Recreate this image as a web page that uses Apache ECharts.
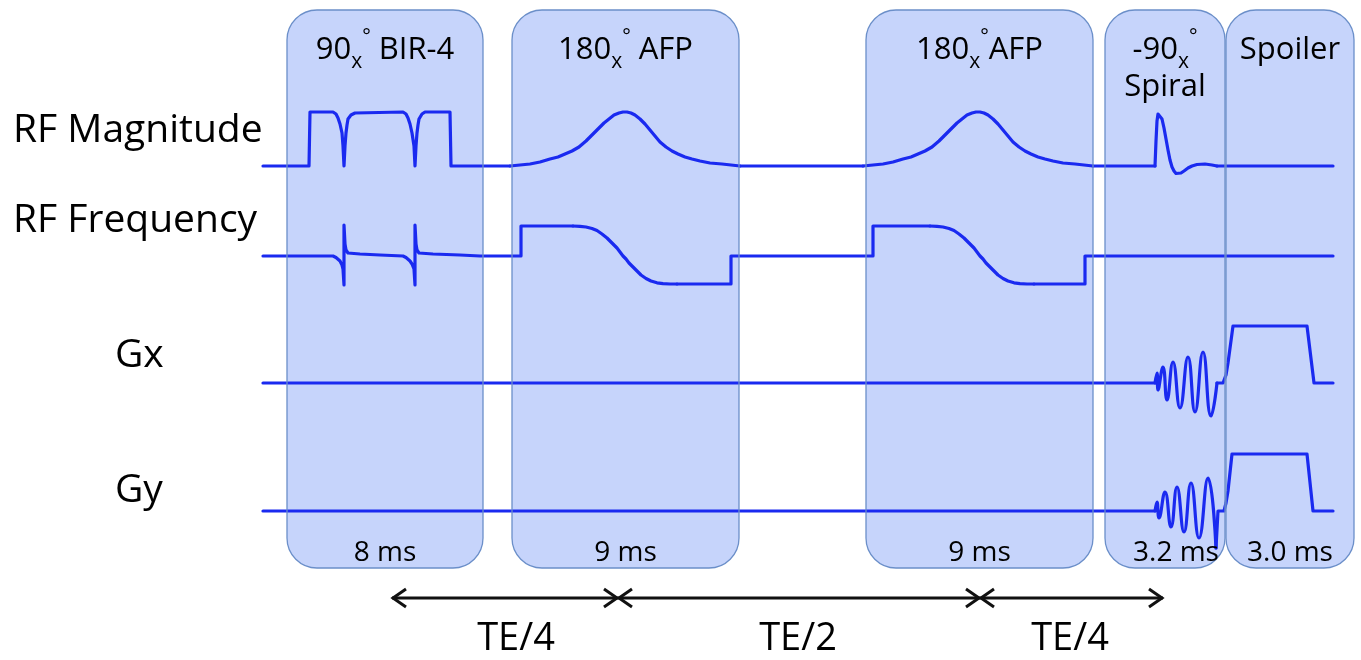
<!DOCTYPE html>
<html>
<head>
<meta charset="utf-8">
<script src="https://cdn.jsdelivr.net/npm/echarts@6/dist/echarts.min.js"></script>
<style>
  html, body { margin: 0; padding: 0; background: #ffffff; }
  #chart { width: 1361px; height: 660px; }
</style>
</head>
<body>
<div id="chart"></div>
<script>
// ---------------- DATA (time in diagram units, amplitudes in arbitrary units) ----------------
const traceNames = ['RF Magnitude', 'RF Frequency', 'Gx', 'Gy'];

// sequence blocks
const boxStart = [287, 512, 866, 1105, 1226];
const boxEnd   = [483, 739, 1093, 1225, 1354];
const boxTitles = ['90{s|x}{d|°} BIR-4', '180{s|x}{d|°} AFP', '180{s|x}{d|°}AFP', '-90{s|x}{d|°}\n{l2|Spiral}', 'Spoiler'];
const boxDurations = ['8 ms', '9 ms', '9 ms', '3.2 ms', '3.0 ms'];

// echo-time arrows
const teStart = [392, 618, 980];
const teEnd   = [618, 980, 1163];
const teLabels = ['TE/4', 'TE/2', 'TE/4'];
const teLabelAt = [516, 798, 1070];

// RF magnitude
const rfMagBir4 = [[263,0],[309,0],[310,54],[333,54],[336,52],[338,48],[340,42],[342,33],[343,20],[344,0],[345,20],[346,33],[347,41],[348,47],[351,51],[355,53],[403,54],[406,52],[408,48],[410,42],[412,33],[414,20],[415,0],[416,20],[417,33],[418,41],[419,47],[422,52],[425,54],[450,54],[451,0],[510,0]];
const rfMagAfp1 = [[510,0],[520,1],[530,2],[540,4],[550,7],[558,9],[565,12],[572,15],[579,19],[586,25],[592,31],[598,37],[604,43],[609,47],[614,51],[619,53],[623,54],[627,54],[631,53],[635,51],[640,47],[645,42],[650,36],[655,30],[660,24],[666,19],[672,15],[678,12],[685,9],[692,7],[700,5],[710,3],[722,2],[740,0]];
const rfMagGapA = [[740,0],[863,0]];
const rfMagAfp2 = [[863,0],[873,1],[883,2],[893,4],[903,7],[911,9],[918,12],[925,15],[932,19],[939,25],[945,31],[951,37],[957,43],[962,47],[967,51],[972,53],[976,54],[980,54],[984,53],[988,51],[993,47],[998,42],[1003,36],[1008,30],[1013,24],[1019,19],[1025,15],[1031,12],[1038,9],[1045,7],[1053,5],[1063,3],[1075,2],[1093,0]];
const rfMagGapB = [[1093,0],[1155,0]];
const rfMagSpiral = [[1155,0],[1156,25],[1157,45],[1158,52],[1159,53],[1160,52],[1162,47],[1164,38],[1166,27],[1168,16],[1170,6],[1172,-1],[1174,-5],[1176,-7.5],[1178,-8],[1181,-7],[1184,-5],[1188,-2],[1192,0],[1197,1.5],[1205,2],[1212,1],[1217,0]];
const rfMagTail = [[1217,0],[1333,0]];

// RF frequency
const rfFreqBir4 = [[263,0],[333,0],[336,-1.5],[338,-3],[340,-5],[342,-9],[343,-13],[344,-29],[344,31],[345,12],[346,6],[348,3],[360,2],[380,1],[403,0],[406,-1.5],[408,-3],[410,-5],[412,-8],[414,-13],[415,-29],[415,31],[416,12],[417,6],[419,3],[433,2],[460,1],[480,0],[521,0],[521,30],[573,30]];
const rfFreqAfp1 = [[573,30],[580,29.7],[586,29],[592,27.5],[597,25.5],[602,22],[607,18],[612,13],[617,8],[620,4],[623,0],[626,-3],[629,-7],[633,-11],[637,-15],[641,-19],[646,-22.5],[651,-25],[657,-26.8],[663,-27.6],[670,-28],[677,-28]];
const rfFreqMid = [[677,-28],[731,-28],[731,0],[873,0],[873,30],[930,30]];
const rfFreqAfp2 = [[930,30],[937,29.7],[943,29],[949,27.5],[954,25.5],[959,22],[964,18],[969,13],[974,8],[977,4],[980,0],[983,-3],[986,-7],[990,-11],[994,-15],[998,-19],[1003,-22.5],[1008,-25],[1014,-26.8],[1020,-27.6],[1027,-28],[1034,-28]];
const rfFreqTail = [[1034,-28],[1085,-28],[1085,0],[1333,0]];

// Gx
const gxLead = [[263,0],[1155,0]];
const gxSpiral = [[1155,0],[1157,10],[1158,-7],[1163,16],[1167,-17],[1173,21],[1180,-25],[1188,26],[1195,-29],[1203,31],[1211,-33],[1217,0]];
const gxSpoiler = [[1217,0],[1223,0],[1226,8],[1228,20],[1233,57],[1307,57],[1314,0],[1333,0]];

// Gy
const gyLead = [[263,0],[1155,0]];
const gySpiral = [[1155,0],[1157,9],[1159,-7],[1165,19],[1171,-16],[1177,24],[1184,-21],[1191,28],[1199,-27],[1208,33],[1216,-37]];
const gySpoiler = [[1216,-37],[1218,0],[1224,0],[1226,8],[1228,20],[1232,57],[1307,57],[1313,0],[1333,0]];

// ---------------- STYLE / LAYOUT ----------------
const FONT = 'Open Sans';
const TRACE_COLOR = '#1a2af0';
const BOX_FILL = '#c6d4fb';
const BOX_STROKE = '#6b8fc9';
const durationNudge = [0, 0, 0, 11, 0];

const chart = echarts.init(document.getElementById('chart'), null, { renderer: 'canvas' });

const grids = [
  { left: 0, right: 0, top: 10, height: 558 },  // blocks
  { left: 0, right: 0, top: 106, height: 75 },  // RF magnitude
  { left: 0, right: 0, top: 221, height: 70 },  // RF frequency
  { left: 0, right: 0, top: 323, height: 100 }, // Gx
  { left: 0, right: 0, top: 451, height: 105 }, // Gy
  { left: 0, right: 0, top: 580, height: 36 }   // TE arrows
];
const yRanges = [[0, 1], [-15, 60], [-35, 35], [-40, 60], [-45, 60], [0, 1]];

const xAxes = grids.map((g, i) => ({ type: 'value', gridIndex: i, min: 0, max: 1361, show: false }));
const yAxes = grids.map((g, i) => ({ type: 'value', gridIndex: i, min: yRanges[i][0], max: yRanges[i][1], show: false }));

function traceSeries(data, axis, smooth) {
  return {
    type: 'line', xAxisIndex: axis, yAxisIndex: axis, data: data,
    showSymbol: false, symbol: 'none', smooth: smooth ? 0.5 : false,
    clip: false, silent: true, z: 3,
    lineStyle: { color: TRACE_COLOR, width: 3.2, cap: 'round', join: 'round' }
  };
}

const boxData = boxStart.map((s, i) => [s, boxEnd[i], i]);

const series = [
  {
    type: 'custom', xAxisIndex: 0, yAxisIndex: 0, data: boxData, z: 1, silent: true,
    encode: { x: [0, 1] },
    renderItem: function (params, api) {
      const a = api.coord([api.value(0), 1]);
      const b = api.coord([api.value(1), 0]);
      return { type: 'rect', shape: { x: a[0], y: a[1], width: b[0] - a[0], height: b[1] - a[1], r: 30 },
               style: { fill: BOX_FILL } };
    }
  },
  {
    type: 'custom', xAxisIndex: 0, yAxisIndex: 0, data: boxData, z: 5, silent: true,
    encode: { x: [0, 1] },
    renderItem: function (params, api) {
      const i = api.value(2);
      const a = api.coord([api.value(0), 1]);
      const b = api.coord([api.value(1), 0]);
      const cx = (a[0] + b[0]) / 2;
      return {
        type: 'group',
        children: [
          { type: 'rect', shape: { x: a[0], y: a[1], width: b[0] - a[0], height: b[1] - a[1], r: 30 },
            style: { fill: 'none', stroke: BOX_STROKE, lineWidth: 1.3 } },
          { type: 'text', x: cx, y: a[1] + 17,
            style: { text: boxTitles[i], fill: '#000', fontSize: 31, fontFamily: FONT,
              align: 'center', verticalAlign: 'top', lineHeight: 46,
              rich: {
                s: { fontSize: 21, fontFamily: FONT, verticalAlign: 'bottom', fill: '#000' },
                d: { fontSize: 20, fontFamily: FONT, verticalAlign: 'top', fill: '#000' },
                l2: { fontSize: 31, fontFamily: FONT, lineHeight: 28, fill: '#000' }
              } } },
          { type: 'text', x: cx + durationNudge[i], y: b[1] - 15,
            style: { text: boxDurations[i], fill: '#000', fontSize: 28, fontFamily: FONT,
              align: 'center', verticalAlign: 'middle' } }
        ]
      };
    }
  },
  traceSeries(rfMagBir4, 1, false),
  traceSeries(rfMagAfp1, 1, false),
  traceSeries(rfMagGapA, 1, false),
  traceSeries(rfMagAfp2, 1, false),
  traceSeries(rfMagGapB, 1, false),
  traceSeries(rfMagSpiral, 1, false),
  traceSeries(rfMagTail, 1, false),
  traceSeries(rfFreqBir4, 2, false),
  traceSeries(rfFreqAfp1, 2, false),
  traceSeries(rfFreqMid, 2, false),
  traceSeries(rfFreqAfp2, 2, false),
  traceSeries(rfFreqTail, 2, false),
  traceSeries(gxLead, 3, false),
  traceSeries(gxSpiral, 3, true),
  traceSeries(gxSpoiler, 3, false),
  traceSeries(gyLead, 4, false),
  traceSeries(gySpiral, 4, true),
  traceSeries(gySpoiler, 4, false),
  {
    type: 'custom', xAxisIndex: 5, yAxisIndex: 5, silent: true, z: 4,
    data: teStart.map((s, i) => [s, teEnd[i], teLabelAt[i], i]),
    encode: { x: [0, 1] },
    renderItem: function (params, api) {
      const i = api.value(3);
      const a = api.coord([api.value(0), 0.5]);
      const b = api.coord([api.value(1), 0.5]);
      const l = api.coord([api.value(2), 0.5]);
      const st = { stroke: '#111', lineWidth: 3, fill: 'none', lineJoin: 'miter' };
      return {
        type: 'group',
        children: [
          { type: 'line', shape: { x1: a[0], y1: a[1], x2: b[0], y2: b[1] }, style: st },
          { type: 'polyline', shape: { points: [[a[0] + 14, a[1] - 9], [a[0] + 1, a[1]], [a[0] + 14, a[1] + 9]] }, style: st },
          { type: 'polyline', shape: { points: [[b[0] - 14, b[1] - 9], [b[0] - 1, b[1]], [b[0] - 14, b[1] + 9]] }, style: st },
          { type: 'text', x: l[0], y: l[1] + 41,
            style: { text: teLabels[i], fill: '#000', fontSize: 38, fontFamily: FONT, align: 'center', verticalAlign: 'middle' } }
        ]
      };
    }
  }
];

const labelX = [13, 13, 115, 115];
const labelY = [131, 221, 356, 491];

chart.setOption({
  animation: false,
  backgroundColor: '#ffffff',
  grid: grids,
  xAxis: xAxes,
  yAxis: yAxes,
  series: series,
  graphic: traceNames.map((t, i) => ({
    type: 'text', x: labelX[i], y: labelY[i], silent: true,
    style: { text: t, fill: '#000', fontSize: 39, fontFamily: FONT, align: 'left', verticalAlign: 'middle' }
  }))
});
</script>
</body>
</html>
